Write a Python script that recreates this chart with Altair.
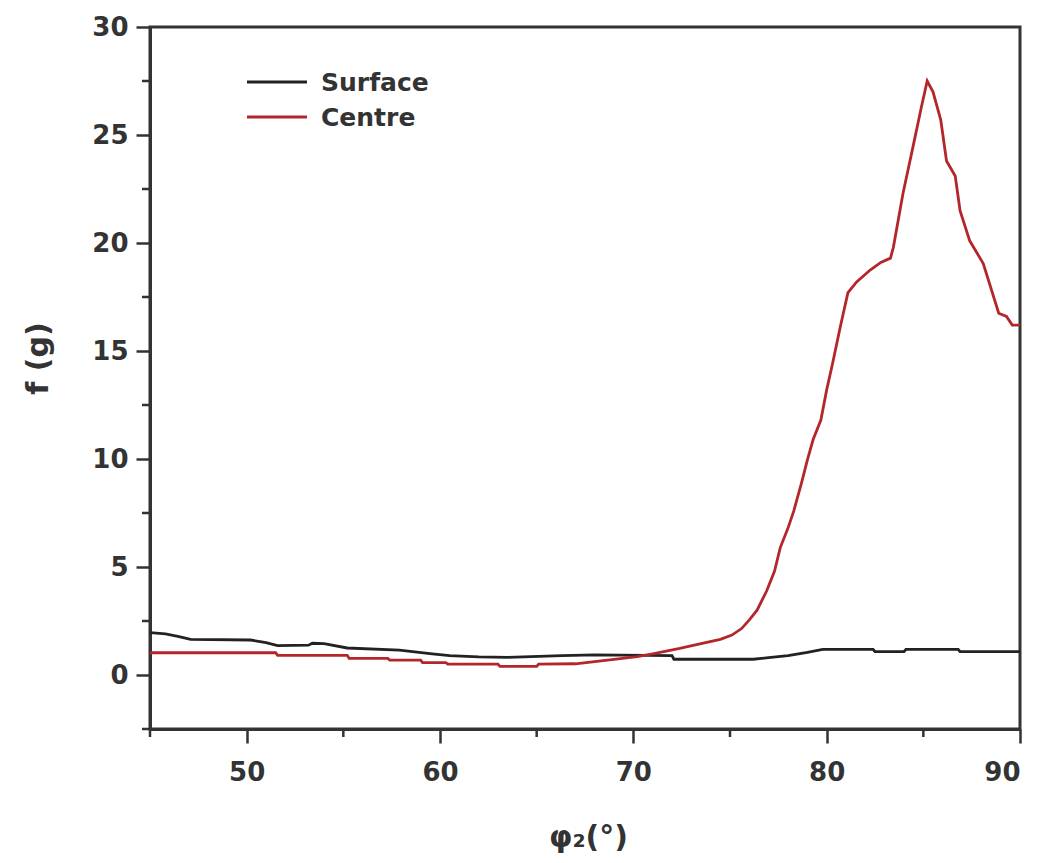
import altair as alt
import pandas as pd

# ---- data ----
surface_x = [45.0, 45.8, 46.5, 47.1, 50.2, 51.0, 51.6, 53.2, 53.4, 54.0, 55.2, 57.9,
             59.6, 60.5, 62.0, 63.5, 66.3, 68.0, 72.0, 72.1, 76.2, 77.0, 78.0, 79.0,
             79.8, 82.4, 82.5, 84.0, 84.1, 86.8, 86.9, 90.0]
surface_y = [1.96, 1.9, 1.78, 1.65, 1.62, 1.5, 1.36, 1.38, 1.47, 1.45, 1.25, 1.15,
             0.98, 0.9, 0.84, 0.82, 0.9, 0.93, 0.9, 0.73, 0.73, 0.8, 0.9, 1.05,
             1.19, 1.19, 1.08, 1.08, 1.19, 1.19, 1.08, 1.08]

centre_x = [45.0, 51.5, 51.6, 55.2, 55.3, 57.3, 57.4, 59.0, 59.1, 60.3, 60.4, 63.0,
            63.1, 65.0, 65.1, 67.0, 68.0, 69.0, 70.2, 71.0, 72.4, 73.5, 74.5, 75.1,
            75.6, 76.0, 76.4, 76.9, 77.3, 77.6, 78.0, 78.3, 78.7, 79.0, 79.3, 79.7,
            80.0, 80.3, 80.7, 81.1, 81.55, 82.25, 82.8, 83.3, 83.45, 83.95, 84.5,
            84.9, 85.2, 85.5, 85.9, 86.2, 86.65, 86.9, 87.4, 88.1, 88.9, 89.3, 89.6, 90.0]
centre_y = [1.03, 1.03, 0.91, 0.91, 0.77, 0.77, 0.69, 0.69, 0.57, 0.57, 0.5, 0.5,
            0.4, 0.4, 0.5, 0.52, 0.62, 0.72, 0.85, 0.98, 1.23, 1.45, 1.65, 1.85,
            2.15, 2.55, 3.0, 3.9, 4.8, 5.9, 6.8, 7.6, 8.9, 9.95, 10.9, 11.8,
            13.2, 14.4, 16.1, 17.7, 18.2, 18.75, 19.1, 19.3, 19.8, 22.3, 24.6,
            26.3, 27.5, 27.0, 25.7, 23.8, 23.1, 21.5, 20.1, 19.05, 16.75, 16.6, 16.2, 16.2]

series_names = ["Surface", "Centre"]
series_colors = ["#222222", "#b3262a"]

x_ticks = [50, 60, 70, 80, 90]
x_minor = [45, 55, 65, 75, 85]
y_ticks = [0, 5, 10, 15, 20, 25, 30]
y_minor = [-2.5, 2.5, 7.5, 12.5, 17.5, 22.5, 27.5]

# ---- tables ----
df = pd.concat([
    pd.DataFrame({"phi": surface_x, "f": surface_y, "series": series_names[0]}),
    pd.DataFrame({"phi": centre_x, "f": centre_y, "series": series_names[1]}),
])
df_xm = pd.DataFrame({"phi": x_minor})
df_ym = pd.DataFrame({"f": y_minor})

W, H = 870, 702
FONT = "DejaVu Sans"
AX = "#333333"

xscale = alt.Scale(domain=[45, 90], nice=False, zero=False)
yscale = alt.Scale(domain=[-2.5, 30], nice=False, zero=False)

lines = alt.Chart(df).mark_line(strokeWidth=2.8, clip=True).encode(
    x=alt.X("phi:Q", scale=xscale,
            axis=alt.Axis(values=x_ticks, title="φ₂(°)", grid=False,
                          labelPadding=16,
                          titleX=438, titleY=108, titleBaseline="middle",
                          titleAlign="center")),
    y=alt.Y("f:Q", scale=yscale,
            axis=alt.Axis(values=y_ticks, title="f (g)", grid=False,
                          labelPadding=8,
                          titleX=-112, titleY=331, titleBaseline="middle",
                          titleAlign="center", titleAngle=-90)),
    color=alt.Color("series:N",
                    scale=alt.Scale(domain=series_names, range=series_colors),
                    legend=None),
    order=alt.Order("phi:Q"),
)

xminor = alt.Chart(df_xm).mark_rule(color=AX, strokeWidth=2.5, clip=False).encode(
    x=alt.X("phi:Q", scale=xscale),
    y=alt.value(H),
    y2=alt.value(H + 8),
)
yminor = alt.Chart(df_ym).mark_rule(color=AX, strokeWidth=2.5, clip=False).encode(
    y=alt.Y("f:Q", scale=yscale),
    x=alt.value(-8),
    x2=alt.value(0),
)

# ---- legend (drawn in the top-left corner, one row per series) ----
legend_layers = []
for i, (name, col) in enumerate(zip(series_names, series_colors)):
    row = pd.DataFrame({"series": [name]})
    ypix = 55 + 35 * i
    legend_layers.append(
        alt.Chart(row).mark_rule(color=col, strokeWidth=3).encode(
            x=alt.value(97), x2=alt.value(157), y=alt.value(ypix))
    )
    legend_layers.append(
        alt.Chart(row).mark_text(align="left", baseline="middle", font=FONT,
                                 fontWeight="bold", fontSize=25, color="#333333").encode(
            x=alt.value(171), y=alt.value(ypix + 1), text="series:N")
    )

chart = alt.layer(lines, xminor, yminor, *legend_layers).properties(
    width=W, height=H,
    autosize=alt.AutoSizeParams(type="none"),
    padding={"left": 142, "top": 19, "right": 14, "bottom": 126},
).configure_view(
    stroke=AX, strokeWidth=3
).configure_axis(
    domainColor=AX, domainWidth=3, tickColor=AX, tickWidth=2.5, tickSize=14,
    labelFont=FONT, labelFontWeight="bold", labelFontSize=26, labelColor="#333333",
    titleFont=FONT, titleFontWeight="bold", titleFontSize=30,
    titleColor="#333333",
)

chart.save("out.html", embed_options={"renderer": "svg", "actions": False})
